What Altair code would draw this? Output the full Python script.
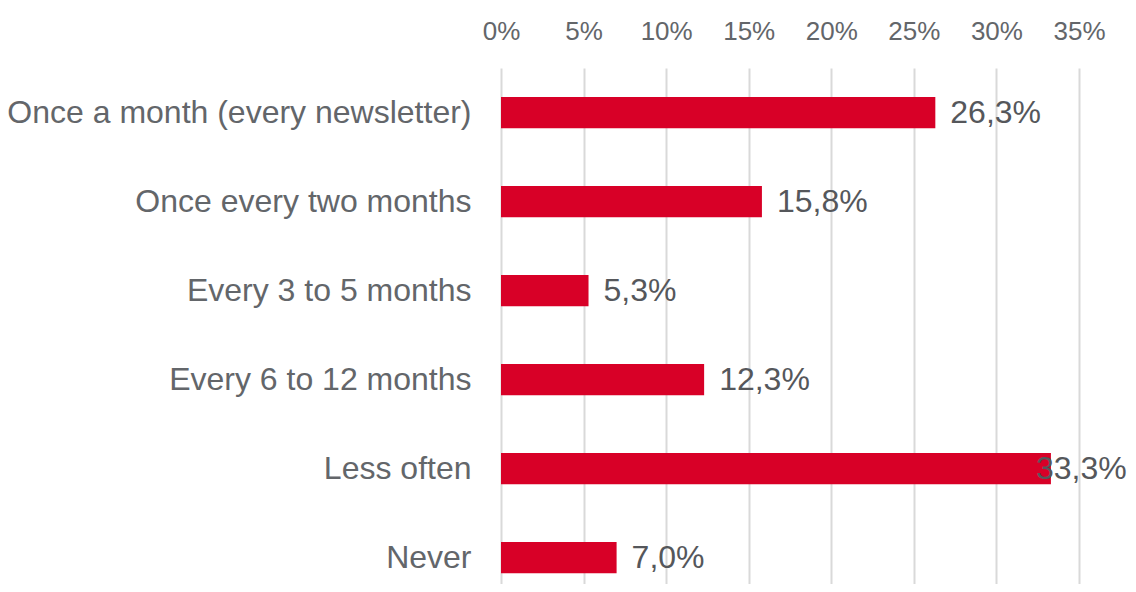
import altair as alt
import pandas as pd

categories = [
    "Once a month (every newsletter)",
    "Once every two months",
    "Every 3 to 5 months",
    "Every 6 to 12 months",
    "Less often",
    "Never",
]
values = [26.3, 15.8, 5.3, 12.3, 33.3, 7.0]
tick_values = [0, 5, 10, 15, 20, 25, 30, 35]

df = pd.DataFrame({
    "category": categories,
    "value": values,
    "label": [f"{v:.1f}".replace(".", ",") + "%" for v in values],
})

FONT = "Liberation Sans"
GRAY = "#63666a"

base = alt.Chart(df).encode(
    y=alt.Y("category:N", sort=None, title=None,
            scale=alt.Scale(paddingInner=0.65, paddingOuter=0.224, align=0.729),
            axis=alt.Axis(labelFont=FONT, labelFontSize=32, labelColor=GRAY,
                          labelPadding=30, ticks=False, domain=False, labelLimit=0)),
)

bars = base.mark_bar(color="#d80027").encode(
    x=alt.X("value:Q", title=None,
            scale=alt.Scale(domain=[0, 35], nice=False),
            axis=alt.Axis(orient="top", values=tick_values, labelExpr="datum.value + '%'",
                          labelFont=FONT, labelFontSize=26, labelColor=GRAY,
                          labelPadding=24, labelOverlap=False, labelFlush=False,
                          ticks=False, domain=False,
                          grid=True, gridColor="#d9d9d9", gridWidth=2)),
)

text = base.mark_text(align="left", baseline="middle", dx=15, font=FONT,
                      fontSize=32, color="#55575b").encode(
    x="value:Q",
    text="label:N",
).transform_filter("datum.value < 30")

text_last = base.mark_text(align="left", baseline="middle", dx=-15, font=FONT,
                           fontSize=32, color="#55575b").encode(
    x="value:Q",
    text="label:N",
).transform_filter("datum.value >= 30")

chart = (bars + text + text_last).properties(
    width=578, height=516,
    autosize=alt.AutoSizeParams(type="none"),
    padding={"left": 493, "top": 60, "right": 49, "bottom": 0},
).configure_view(stroke=None)

chart.save("out.html", embed_options={"renderer": "svg", "actions": False})
